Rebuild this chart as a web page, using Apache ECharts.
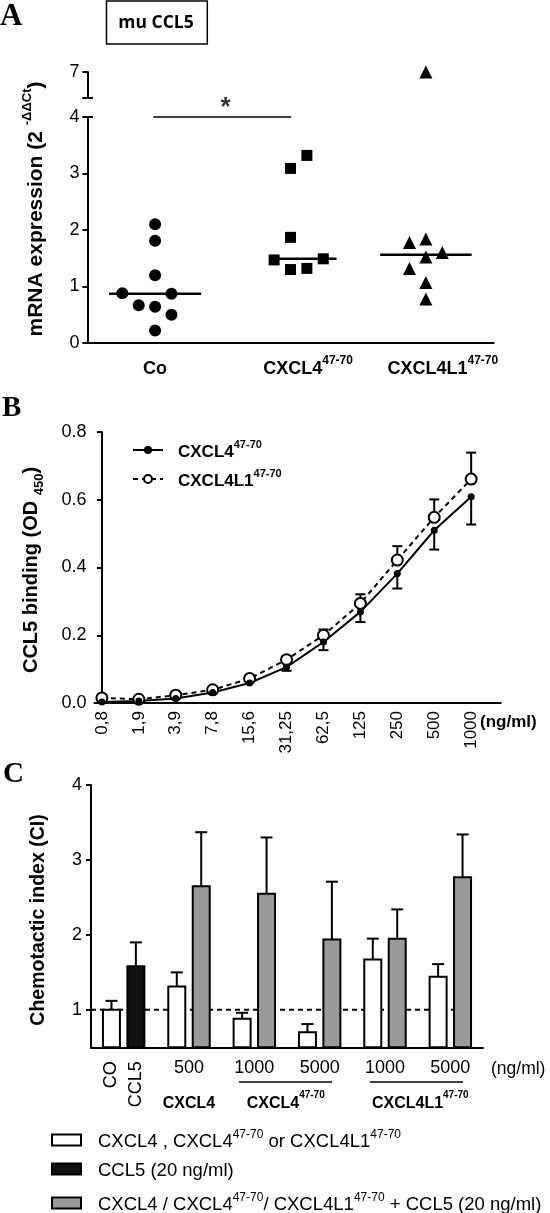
<!DOCTYPE html>
<html><head><meta charset="utf-8">
<script src="https://cdn.jsdelivr.net/npm/echarts@6/dist/echarts.min.js"></script>
<style>html,body{margin:0;padding:0;background:#fff}#c{width:550px;height:1213px}</style>
</head><body><div id="c"></div>
<script>
// ---------- Panel A data ----------
const aCategories = ['Co', 'CXCL4', 'CXCL4L1'];
const coValues = [2.10, 1.81, 1.20, 0.88, 0.87, 0.67, 0.64, 0.50, 0.22];
const coJitter = [0, 0, 0, -2, 1, -1, 0, 1, 0];
const cxcl4Values = [3.32, 3.09, 1.87, 1.47, 1.49, 1.30, 1.32];
const cxcl4Jitter = [1, 0, 0, -1, 2, 0, 1];
const cxcl4l1Values = [7.0, 1.78, 1.84, 1.60, 1.52, 1.32, 1.07, 0.78];
const cxcl4l1Jitter = [0, -1, 0, 1, 0, -1, 0, 0];
const aMedians = [0.87, 1.49, 1.56];
const aUpperTickLabels = ['7'];

// ---------- Panel B data ----------
const bDoses = ['0,8', '1,9', '3,9', '7,8', '15,6', '31,25', '62,5', '125', '250', '500', '1000'];
const bCxcl4 = [0.003, 0.006, 0.013, 0.031, 0.059, 0.106, 0.180, 0.269, 0.382, 0.510, 0.609];
const bCxcl4Err = [0, 0, 0, 0, 0, 0.011, 0.024, 0.030, 0.044, 0.057, 0.082];
const bCxcl4l1 = [0.015, 0.011, 0.023, 0.039, 0.072, 0.128, 0.200, 0.294, 0.422, 0.548, 0.661];
const bCxcl4l1Err = [0, 0, 0, 0, 0, 0.005, 0.017, 0.027, 0.041, 0.053, 0.078];

// ---------- Panel C data ----------
const cControlLabels = ['CO', 'CCL5'];
const cDoseLabels = ['500', '1000', '5000', '1000', '5000'];
const cGroupLabels = ['CXCL4', 'CXCL4_47', 'CXCL4L1_47'];
const cCoMean = 1.00, cCoErr = 0.12;
const cCcl5Mean = 1.58, cCcl5Err = 0.32;
const cAloneMean = [1.31, 0.88, 0.70, 1.67, 1.44];
const cAloneErr = [0.19, 0.08, 0.11, 0.28, 0.17];
const cComboMean = [2.65, 2.55, 1.94, 1.95, 2.77];
const cComboErr = [0.72, 0.75, 0.77, 0.39, 0.57];

// ---------- styles ----------
const F = 'Liberation Sans, Arial, Helvetica, sans-serif';
const SERIF = 'Liberation Serif, Times New Roman, serif';
const K = '#000';
const axisLine = { show: true, lineStyle: { color: K, width: 2 } };
const axisTickOut = { show: true, length: 5, lineStyle: { color: K, width: 2 } };
const tickFont = { color: K, fontFamily: F, fontSize: 18 };

function labelText(name) {
  if (name === 'CXCL4_47') return '{n|CXCL4}{s|47-70}';
  if (name === 'CXCL4L1_47') return '{n|CXCL4L1}{s|47-70}';
  return '{n|' + name + '}';
}
function richBold(size, sup) {
  return {
    n: { fontFamily: F, fontWeight: 'bold', fontSize: size, color: K, lineHeight: size + 5, verticalAlign: 'bottom' },
    s: { fontFamily: F, fontWeight: 'bold', fontSize: sup, color: K, lineHeight: sup + 1, verticalAlign: 'top' }
  };
}

// Panel A positions
const aCenters = [1, 3, 5];
const J = 0.242;
const aLabelPos = [1.0, 3.26, 5.25];
const aLabelNames = ['Co', 'CXCL4_47', 'CXCL4L1_47'];
const aMedianHalf = [0.68, 0.48, 0.675];
const aMedianShift = [0, 0.2, 0];

function pts(center, vals, jit, filt) {
  const out = [];
  vals.forEach((v, i) => { if (filt(v)) out.push([center + jit[i] * J, v]); });
  return out;
}

// Panel C positions
const cOff = 0.187;
const cGroupPos = [1.5, 2.98, 5.04];
const whiteData = [[0.5 - cOff, cCoMean, cCoErr]].concat(cAloneMean.map((m, i) => [1.5 + i - cOff, m, cAloneErr[i]]));
const blackData = [[0.5 + cOff, cCcl5Mean, cCcl5Err]];
const grayData = cComboMean.map((m, i) => [1.5 + i + cOff, m, cComboErr[i]]);

function barRender(fill) {
  return function (params, api) {
    const x = api.value(0), y = api.value(1), e = api.value(2);
    const top = api.coord([x, y]);
    const base = api.coord([x, 0.5]);
    const et = api.coord([x, y + e]);
    const w = 17;
    return {
      type: 'group', children: [
        { type: 'line', shape: { x1: top[0], y1: top[1], x2: et[0], y2: et[1] }, style: { stroke: K, lineWidth: 2 } },
        { type: 'line', shape: { x1: top[0] - 6, y1: et[1], x2: top[0] + 6, y2: et[1] }, style: { stroke: K, lineWidth: 2 } },
        { type: 'rect', shape: { x: top[0] - w / 2, y: top[1], width: w, height: base[1] - top[1] }, style: { fill: fill, stroke: K, lineWidth: 2 } }
      ]
    };
  };
}
function errRender(dir) {
  return function (params, api) {
    const x = api.value(0), y = api.value(1), e = api.value(2);
    if (!e) return null;
    const p = api.coord([x, y]);
    const q = api.coord([x, y + dir * e]);
    return {
      type: 'group', children: [
        { type: 'line', shape: { x1: p[0], y1: p[1], x2: q[0], y2: q[1] }, style: { stroke: K, lineWidth: 2 } },
        { type: 'line', shape: { x1: q[0] - 5, y1: q[1], x2: q[0] + 5, y2: q[1] }, style: { stroke: K, lineWidth: 2 } }
      ]
    };
  };
}

const cLegendText = {
  white: '{n|CXCL4 , CXCL4}{s|47-70}{n| or CXCL4L1}{s|47-70}',
  black: '{n|CCL5 (20 ng/ml)}',
  gray: '{n|CXCL4 / CXCL4}{s|47-70}{n|/ CXCL4L1}{s|47-70}{n| + CCL5 (20 ng/ml)}'
};
const cLegendStyle = {
  white: { color: '#fff', borderColor: K, borderWidth: 2 },
  black: { color: '#111', borderColor: K, borderWidth: 2 },
  gray: { color: '#9a9a9a', borderColor: K, borderWidth: 2 }
};
const cLegendTop = { white: 1129, black: 1161, gray: 1192 };
function cLegend(name) {
  return {
    data: [{ name: name, itemStyle: cLegendStyle[name] }],
    left: 51, top: cLegendTop[name], padding: 0, orient: 'vertical', icon: 'rect', itemWidth: 29, itemHeight: 11, selectedMode: false,
    formatter: (n) => cLegendText[n],
    textStyle: { padding: [0, 0, 0, 12], rich: {
      n: { fontFamily: F, fontSize: 18.5, color: K, lineHeight: 22, verticalAlign: 'bottom' },
      s: { fontFamily: F, fontSize: 12, color: K, lineHeight: 13, verticalAlign: 'top' } } }
  };
}

const chart = echarts.init(document.getElementById('c'), null, { renderer: 'canvas' });
const option = {
  animation: false,
  backgroundColor: '#fff',
  grid: [
    { left: 87.4, top: 117, width: 406.2, height: 226 },
    { left: 87.4, top: 72, width: 406.2, height: 26 },
    { left: 94.5, top: 432, width: 406.2, height: 271 },
    { left: 91, top: 785, width: 392, height: 262.3 }
  ],
  xAxis: [
    { gridIndex: 0, type: 'value', position: 'bottom', min: 0, max: 6, axisLine: axisLine, axisTick: { show: false }, splitLine: { show: false },
      axisLabel: { customValues: aLabelPos, margin: 12, formatter: (v) => labelText(aLabelNames[aLabelPos.indexOf(v)]), rich: richBold(18, 12) } },
    { gridIndex: 1, type: 'value', position: 'bottom', min: 0, max: 6, show: false },
    { gridIndex: 2, type: 'value', position: 'bottom', min: -0.2, max: 10.8, axisLine: axisLine, axisTick: { show: false }, splitLine: { show: false },
      axisLabel: Object.assign({ customValues: bDoses.map((d, i) => i), rotate: 90, margin: 8, formatter: (v) => bDoses[Math.round(v)] }, tickFont, { fontSize: 17 }) },
    { gridIndex: 3, type: 'value', position: 'bottom', min: 0, max: 6, axisLine: axisLine, axisTick: { show: false }, splitLine: { show: false },
      axisLabel: Object.assign({ customValues: cDoseLabels.map((d, i) => 1.5 + i), margin: 12, formatter: (v) => cDoseLabels[Math.round(v - 1.5)] }, tickFont) },
    { gridIndex: 3, type: 'value', position: 'bottom', offset: 0, min: 0, max: 6, axisLine: { show: false }, axisTick: { show: false }, splitLine: { show: false },
      axisLabel: Object.assign({ customValues: [0.5 - cOff, 0.5 + cOff], rotate: 90, margin: 14, formatter: (v) => (v < 0.5 ? cControlLabels[0] : cControlLabels[1]) }, tickFont) },
    { gridIndex: 3, type: 'value', position: 'bottom', offset: 40, min: 0, max: 6, axisLine: { show: false }, axisTick: { show: false }, splitLine: { show: false },
      axisLabel: { customValues: cGroupPos, margin: 3, formatter: (v) => labelText(cGroupLabels[cGroupPos.indexOf(v)]), rich: richBold(16, 10) } }
  ],
  yAxis: [
    { gridIndex: 0, type: 'value', min: 0, max: 4, interval: 1, axisLine: axisLine, axisTick: axisTickOut, splitLine: { show: false },
      axisLabel: Object.assign({ margin: 8 }, tickFont) },
    { gridIndex: 1, type: 'value', min: 6, max: 7, interval: 1, axisLine: axisLine, axisTick: axisTickOut, splitLine: { show: false },
      axisLabel: Object.assign({ margin: 8, formatter: (v) => (aUpperTickLabels.indexOf(String(v)) >= 0 ? String(v) : '') }, tickFont) },
    { gridIndex: 2, type: 'value', min: 0, max: 0.8, interval: 0.2, axisLine: axisLine, axisTick: axisTickOut, splitLine: { show: false },
      axisLabel: Object.assign({ margin: 8, formatter: (v) => v.toFixed(1) }, tickFont) },
    { gridIndex: 3, type: 'value', min: 0.5, max: 4, axisLine: axisLine, splitLine: { show: false },
      axisTick: Object.assign({ customValues: [1, 2, 3, 4] }, axisTickOut),
      axisLabel: Object.assign({ customValues: [1, 2, 3, 4], margin: 9 }, tickFont) }
  ],
  legend: [
    { data: ['CXCL4', 'CXCL4L1'], left: 132, top: 439, padding: 0, orient: 'vertical', itemWidth: 30, itemHeight: 10, itemGap: 7, selectedMode: false,
      formatter: (n) => labelText(n === 'CXCL4' ? 'CXCL4_47' : 'CXCL4L1_47'),
      textStyle: { padding: [0, 0, 0, 10], rich: richBold(17, 11) } },
    cLegend('white'), cLegend('black'), cLegend('gray')
  ],
  series: [
    // ---- Panel A ----
    { type: 'scatter', xAxisIndex: 0, yAxisIndex: 0, symbol: 'circle', symbolSize: 12, itemStyle: { color: K, opacity: 1 },
      data: pts(aCenters[0], coValues, coJitter, (v) => v <= 4) },
    { type: 'scatter', xAxisIndex: 0, yAxisIndex: 0, symbol: 'rect', symbolSize: 11, itemStyle: { color: K, opacity: 1 },
      data: pts(aCenters[1], cxcl4Values, cxcl4Jitter, (v) => v <= 4) },
    { type: 'scatter', xAxisIndex: 0, yAxisIndex: 0, symbol: 'triangle', symbolSize: 13, itemStyle: { color: K, opacity: 1 },
      data: pts(aCenters[2], cxcl4l1Values, cxcl4l1Jitter, (v) => v <= 4) },
    { type: 'scatter', xAxisIndex: 1, yAxisIndex: 1, symbol: 'triangle', symbolSize: 13, itemStyle: { color: K, opacity: 1 }, clip: false,
      data: pts(aCenters[2], cxcl4l1Values, cxcl4l1Jitter, (v) => v > 4) },
    ...aMedians.map((m, i) => ({
      type: 'line', xAxisIndex: 0, yAxisIndex: 0, symbol: 'none', lineStyle: { color: K, width: 2.5 }, clip: false,
      data: [[aCenters[i] + aMedianShift[i] - aMedianHalf[i], m], [aCenters[i] + aMedianShift[i] + aMedianHalf[i], m]]
    })),
    { type: 'line', xAxisIndex: 0, yAxisIndex: 0, symbol: 'none', lineStyle: { color: K, width: 1.5 }, clip: false,
      data: [[aCenters[0] - 0.025, 4], [aCenters[1] + 0.01, 4]] },
    { type: 'scatter', xAxisIndex: 0, yAxisIndex: 0, symbolSize: 0.1, clip: false, itemStyle: { color: 'rgba(0,0,0,0)' },
      data: [[2.04, 4]],
      label: { show: true, formatter: '*', position: 'top', distance: -4, fontFamily: F, fontSize: 26, fontWeight: 'bold', color: K } },
    // ---- Panel B ----
    { type: 'custom', xAxisIndex: 2, yAxisIndex: 2, renderItem: errRender(1), clip: false, encode: { x: 0, y: 1 },
      data: bCxcl4l1.map((v, i) => [i, v, bCxcl4l1Err[i]]) },
    { name: 'CXCL4L1', type: 'line', xAxisIndex: 2, yAxisIndex: 2, symbol: 'circle', symbolSize: 11, clip: false,
      itemStyle: { color: '#fff', borderColor: K, borderWidth: 2 }, lineStyle: { color: K, width: 2, type: [5, 4] },
      data: bCxcl4l1.map((v, i) => [i, v]) },
    { type: 'custom', xAxisIndex: 2, yAxisIndex: 2, renderItem: errRender(-1), clip: false, encode: { x: 0, y: 1 },
      data: bCxcl4.map((v, i) => [i, v, bCxcl4Err[i]]) },
    { name: 'CXCL4', type: 'line', xAxisIndex: 2, yAxisIndex: 2, symbol: 'circle', symbolSize: 7, clip: false,
      itemStyle: { color: K }, lineStyle: { color: K, width: 2 },
      data: bCxcl4.map((v, i) => [i, v]) },
    // ---- Panel C ----
    { type: 'line', xAxisIndex: 3, yAxisIndex: 3, symbol: 'none', lineStyle: { color: K, width: 2, type: [5, 4] },
      data: [[0, 1], [5.76, 1]], z: 1 },
    { name: 'white', type: 'custom', xAxisIndex: 3, yAxisIndex: 3, renderItem: barRender('#fff'), encode: { x: 0, y: 1 },
      itemStyle: cLegendStyle.white, data: whiteData, z: 3 },
    { name: 'black', type: 'custom', xAxisIndex: 3, yAxisIndex: 3, renderItem: barRender('#111'), encode: { x: 0, y: 1 },
      itemStyle: cLegendStyle.black, data: blackData, z: 3 },
    { name: 'gray', type: 'custom', xAxisIndex: 3, yAxisIndex: 3, renderItem: barRender('#9a9a9a'), encode: { x: 0, y: 1 },
      itemStyle: cLegendStyle.gray, data: grayData, z: 3 }
  ],
  graphic: [
    { type: 'text', left: 0, top: 1, style: { text: 'A', font: 'bold 31px ' + SERIF, fill: K } },
    { type: 'text', left: 2, top: 394, style: { text: 'B', font: 'bold 29px ' + SERIF, fill: K } },
    { type: 'text', left: 3, top: 760, style: { text: 'C', font: 'bold 29px ' + SERIF, fill: K } },
    { type: 'rect', shape: { x: 106.5, y: 1, width: 100.8, height: 43 }, style: { fill: '#fff', stroke: K, lineWidth: 1.5 } },
    { type: 'text', x: 156, y: 23, style: { text: 'mu CCL5', x: 0, y: 0, align: 'center', verticalAlign: 'middle', textAlign: 'center', textVerticalAlign: 'middle',
      fontFamily: 'Open Sans, Liberation Sans, sans-serif', fontWeight: 'bold', fontSize: 17.5, fill: K } },
    // y axis names
    { type: 'text', x: 33.5, y: 209, rotation: Math.PI / 2, style: { x: 0, y: 0, align: 'center', verticalAlign: 'middle', textAlign: 'center', textVerticalAlign: 'middle', fill: K,
      text: '{n|mRNA expression (2 }{s|-ΔΔCt}{n|)}',
      rich: { n: { fontFamily: F, fontWeight: 'bold', fontSize: 21, fill: K, lineHeight: 26, verticalAlign: 'bottom' },
              s: { fontFamily: F, fontWeight: 'bold', fontSize: 13, fill: K, lineHeight: 14, verticalAlign: 'top' } } } },
    { type: 'text', x: 33.5, y: 570, rotation: Math.PI / 2, style: { x: 0, y: 0, align: 'center', verticalAlign: 'middle', textAlign: 'center', textVerticalAlign: 'middle', fill: K,
      text: '{n|CCL5 binding (OD }{s|450}{n|)}',
      rich: { n: { fontFamily: F, fontWeight: 'bold', fontSize: 20, fill: K, lineHeight: 25, verticalAlign: 'top' },
              s: { fontFamily: F, fontWeight: 'bold', fontSize: 13, fill: K, lineHeight: 14, verticalAlign: 'bottom' } } } },
    { type: 'text', x: 38.5, y: 920, rotation: Math.PI / 2, style: { x: 0, y: 0, align: 'center', verticalAlign: 'middle', textAlign: 'center', textVerticalAlign: 'middle', fill: K,
      text: 'Chemotactic index (CI)', fontFamily: F, fontWeight: 'bold', fontSize: 19.5 } },
    // axis break caps (panel A)
    { type: 'line', shape: { x1: 87.4, y1: 98, x2: 93, y2: 98 }, style: { stroke: K, lineWidth: 2 } },
    { type: 'line', shape: { x1: 87.4, y1: 117, x2: 93, y2: 117 }, style: { stroke: K, lineWidth: 2 } },
    // units
    { type: 'text', x: 480, y: 722, style: { x: 0, y: 0, text: '(ng/ml)', verticalAlign: 'middle', textVerticalAlign: 'middle', fontFamily: F, fontWeight: 'bold', fontSize: 17, fill: K } },
    { type: 'text', x: 491, y: 1069, style: { x: 0, y: 0, text: '(ng/ml)', verticalAlign: 'middle', textVerticalAlign: 'middle', fontFamily: F, fontSize: 17.5, fill: K } },
    // group underlines (panel C)
    { type: 'line', shape: { x1: 239, y1: 1082, x2: 332, y2: 1082 }, style: { stroke: K, lineWidth: 1.5 } },
    { type: 'line', shape: { x1: 370, y1: 1082, x2: 463, y2: 1082 }, style: { stroke: K, lineWidth: 1.5 } }
  ]
};
chart.setOption(option);
</script></body></html>
